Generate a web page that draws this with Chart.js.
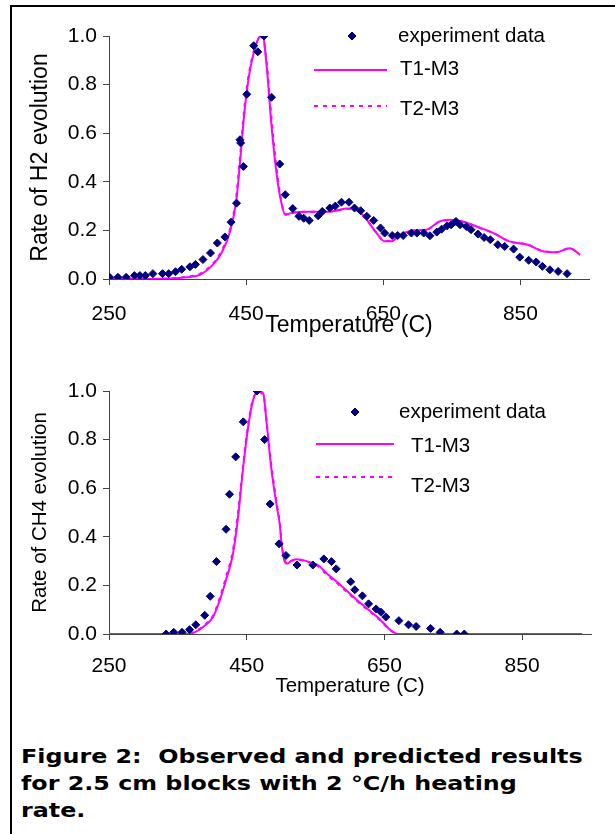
<!DOCTYPE html>
<html>
<head>
<meta charset="utf-8">
<script src="https://cdn.jsdelivr.net/npm/chart.js@4.4.1/dist/chart.umd.min.js"></script>
<style>
  body { margin: 0; background: #fff; width: 615px; height: 834px; overflow: hidden; position: relative; }
  #frame { position: absolute; left: 10px; top: 5px; width: 605px; height: 829px; border-top: 2px solid #000; border-left: 2px solid #000; box-sizing: border-box; }
  .plot { position: absolute; left: 0; }
  #caption { position: absolute; left: 21px; top: 743px; font: bold 20px "DejaVu Sans", Verdana, sans-serif; line-height: 27px; color: #000; white-space: nowrap; transform: scaleX(1.19); transform-origin: 0 0; }
</style>
</head>
<body>
<div id="frame"></div>
<canvas id="h2Chart" class="plot" width="615" height="350" style="top:0px"></canvas>
<canvas id="ch4Chart" class="plot" width="615" height="350" style="top:360px"></canvas>
<div id="caption">Figure 2:&nbsp; Observed and predicted results<br>for 2.5 cm blocks with 2 °C/h heating<br>rate.</div>
<script>
// ---- data ----
const seriesNames = ['experiment data', 'T1-M3', 'T2-M3'];
const xTicks = [250, 450, 650, 850];
const yTicks = [0, 0.2, 0.4, 0.6, 0.8, 1.0];

// H2 evolution
const h2ExpTemp = [251,263,275,287,295,303,314,328,337,347,356,368,376,387,398,408,419,428,436,441,442,446,451,461,467,476,487,499,507,518,527,534,542,555,561,572,580,589,600,608,617,626,636,646,652,663,671,679,691,699,709,718,728,735,743,749,756,762,771,778,788,797,806,817,827,840,849,862,873,882,893,905,918];
const h2ExpRate = [0.007,0.007,0.007,0.014,0.014,0.014,0.022,0.022,0.022,0.03,0.04,0.05,0.06,0.08,0.107,0.148,0.173,0.234,0.312,0.573,0.56,0.463,0.76,0.96,0.935,1.0,0.748,0.473,0.347,0.29,0.258,0.25,0.241,0.26,0.278,0.292,0.30,0.316,0.316,0.292,0.281,0.258,0.241,0.21,0.189,0.179,0.179,0.179,0.189,0.189,0.189,0.178,0.193,0.205,0.219,0.223,0.237,0.223,0.216,0.203,0.185,0.171,0.162,0.141,0.134,0.123,0.09,0.077,0.07,0.052,0.038,0.031,0.022];
const h2ModelTemp = [250,300,340,363,383,402,414,427,436,441,448,455,462,469,474,480,487,495,502,507,514,524,544,560,579,597,606,616,626,640,652,662,674,693,713,732,747,766,786,810,834,861,883,903,922,937];
const h2T1 = [0,0,0.002,0.007,0.018,0.06,0.107,0.2,0.33,0.48,0.70,0.85,0.94,0.995,1.0,0.875,0.63,0.42,0.305,0.264,0.27,0.275,0.277,0.276,0.28,0.29,0.29,0.275,0.244,0.19,0.155,0.155,0.18,0.2,0.203,0.237,0.244,0.237,0.216,0.19,0.155,0.141,0.114,0.11,0.127,0.10];
const h2T2 = [0,0,0.003,0.009,0.022,0.065,0.115,0.21,0.35,0.50,0.72,0.86,0.945,0.99,0.995,0.89,0.66,0.44,0.31,0.266,0.27,0.275,0.277,0.276,0.28,0.288,0.288,0.273,0.243,0.19,0.157,0.157,0.18,0.2,0.203,0.236,0.243,0.236,0.215,0.19,0.155,0.141,0.115,0.111,0.127,0.10];

// CH4 evolution
const ch4ExpTemp = [333,344,356,367,376,389,397,406,420,425,434,445,465,476,484,497,507,523,546,562,573,580,601,607,618,627,638,645,652,671,685,696,717,731,755,766];
const ch4ExpRate = [0,0.007,0.007,0.018,0.038,0.077,0.155,0.298,0.431,0.575,0.729,0.873,1.0,0.80,0.535,0.371,0.323,0.284,0.284,0.309,0.298,0.268,0.215,0.182,0.157,0.124,0.103,0.09,0.07,0.055,0.038,0.031,0.023,0.007,0,0];
const ch4ModelTemp = [250,300,350,372,387,401,411,420,430,437,445,452,459,467,474,479,486,494,498,501,505,509,514,522,537,547,553,566,585,610,624,644,658,670,700,800,937];
const ch4T1 = [0,0,0,0.005,0.03,0.07,0.14,0.223,0.33,0.47,0.69,0.85,0.96,1.0,0.99,0.866,0.674,0.52,0.45,0.36,0.30,0.29,0.30,0.308,0.30,0.29,0.285,0.25,0.205,0.14,0.107,0.059,0.018,0,0,0,0];
const ch4T2 = [0,0,0,0.006,0.033,0.075,0.15,0.235,0.345,0.49,0.70,0.86,0.965,0.995,0.985,0.87,0.69,0.53,0.46,0.37,0.305,0.29,0.30,0.306,0.298,0.288,0.28,0.245,0.2,0.136,0.103,0.056,0.016,0,0,0,0];

const NAVY = '#000080';
const MAGENTA = '#ff00ff';
const AXIS = '#444';
const FONT = '"Liberation Sans", Arial, sans-serif';

function pts(xs, ys) {
  return xs.map((x, i) => ({ x: x, y: ys[i] }));
}

// legend drawn by hand: marker / line sample on the left, label on the right
const figLegend = {
  id: 'figLegend',
  afterDraw(chart, args, opts) {
    const ctx = chart.ctx;
    ctx.save();
    ctx.font = opts.size + 'px ' + FONT;
    ctx.textBaseline = 'middle';
    ctx.textAlign = 'left';
    chart.data.datasets.forEach((ds, i) => {
      const it = opts.items[i];
      if (ds.showLine) {
        ctx.strokeStyle = ds.borderColor;
        ctx.lineWidth = ds.borderWidth;
        ctx.setLineDash(ds.borderDash || []);
        ctx.beginPath();
        ctx.moveTo(it.x0, it.y);
        ctx.lineTo(it.x1, it.y);
        ctx.stroke();
        ctx.setLineDash([]);
      } else {
        ctx.fillStyle = ds.backgroundColor;
        ctx.strokeStyle = ds.borderColor;
        Chart.helpers.drawPoint(ctx, { pointStyle: 'rectRot', radius: ds.pointRadius, rotation: 0, borderWidth: ds.borderWidth }, it.x0, it.y);
      }
      ctx.fillStyle = '#000';
      ctx.fillText(ds.label, it.tx, it.ty);
    });
    ctx.restore();
  }
};

function makeChart(id, exp, t1, t2, lay) {
  const ctx = document.getElementById(id).getContext('2d');
  return new Chart(ctx, {
    type: 'scatter',
    data: {
      datasets: [
        { label: seriesNames[0], data: exp, pointStyle: 'rectRot', pointRadius: 4, borderWidth: 1,
          backgroundColor: NAVY, borderColor: NAVY, showLine: false },
        { label: seriesNames[1], data: t1, showLine: true, pointRadius: 0, borderWidth: 2,
          borderColor: MAGENTA, backgroundColor: MAGENTA, cubicInterpolationMode: 'monotone' },
        { label: seriesNames[2], data: t2, showLine: true, pointRadius: 0, borderWidth: 2, borderDash: [4, 5],
          borderColor: MAGENTA, backgroundColor: MAGENTA, cubicInterpolationMode: 'monotone' }
      ]
    },
    options: {
      responsive: false,
      animation: false,
      devicePixelRatio: 1,
      layout: { padding: { top: lay.top, right: lay.right, left: 0, bottom: 0 } },
      plugins: {
        legend: { display: false },
        tooltip: { enabled: false },
        figLegend: { size: 20.5, items: lay.legend }
      },
      scales: {
        x: {
          type: 'linear', min: 250, max: 950,
          afterBuildTicks: s => { s.ticks = xTicks.map(v => ({ value: v })); },
          afterFit: s => { s.height = lay.xh; },
          grid: { drawOnChartArea: false, drawTicks: true, tickLength: 6, color: AXIS },
          border: { display: true, color: AXIS, width: 1 },
          ticks: { color: '#000', padding: lay.xpad, font: { family: FONT, size: 21 } },
          title: { display: true, text: 'Temperature (C)', color: '#000',
                   font: { family: FONT, size: lay.titleSize }, padding: { top: 0, bottom: lay.xtPad } }
        },
        y: {
          min: 0, max: 1,
          afterBuildTicks: s => { s.ticks = yTicks.map(v => ({ value: v })); },
          afterFit: s => { s.width = 109; },
          grid: { drawOnChartArea: false, drawTicks: true, tickLength: 6, color: AXIS },
          border: { display: true, color: AXIS, width: 1 },
          ticks: { color: '#000', padding: 6, font: { family: FONT, size: 21 }, callback: v => v.toFixed(1) },
          title: { display: true, text: lay.ytitle, color: '#000',
                   font: { family: FONT, size: lay.titleSize }, padding: { top: lay.ytPad, bottom: 0 } }
        }
      }
    },
    plugins: [figLegend]
  });
}

makeChart('h2Chart', pts(h2ExpTemp, h2ExpRate), pts(h2ModelTemp, h2T1), pts(h2ModelTemp, h2T2), {
  top: 36, right: 26, xh: 71, xpad: 17, xtPad: 11, ytPad: 27, titleSize: 23,
  ytitle: 'Rate of H2 evolution',
  legend: [
    { x0: 352, y: 36, tx: 398, ty: 36 },
    { x0: 314, x1: 387, y: 70, tx: 400, ty: 69 },
    { x0: 314, x1: 387, y: 106, tx: 400, ty: 109 }
  ]
});

makeChart('ch4Chart', pts(ch4ExpTemp, ch4ExpRate), pts(ch4ModelTemp, ch4T1), pts(ch4ModelTemp, ch4T2), {
  top: 31, right: 24, xh: 76, xpad: 14, xtPad: 11, ytPad: 28, titleSize: 20.5,
  ytitle: 'Rate of CH4 evolution',
  legend: [
    { x0: 355, y: 52, tx: 399, ty: 52 },
    { x0: 316, x1: 394, y: 84, tx: 411, ty: 86 },
    { x0: 316, x1: 394, y: 117, tx: 411, ty: 126 }
  ]
});
</script>
</body>
</html>
